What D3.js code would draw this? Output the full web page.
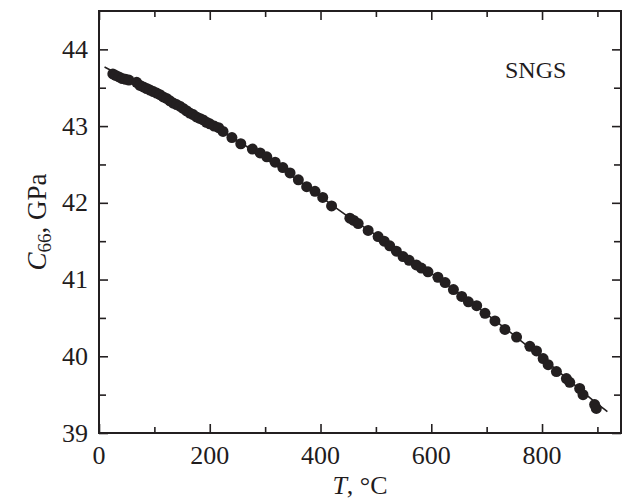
<!DOCTYPE html>
<html>
<head>
<meta charset="utf-8">
<script src="https://cdn.jsdelivr.net/npm/d3@7"></script>
<style>
  body { margin: 0; background: #fff; }
  svg text { font-family: "Liberation Serif", "Times New Roman", serif; fill: #1f1c1d; }
</style>
</head>
<body>
<div id="chart"></div>
<script>
// measured points, T in °C and C66 in GPa
const tempPoints = [25, 30, 36, 42, 48, 54, 68, 74, 80, 86, 92, 98, 104, 110, 116, 122, 128, 134, 140, 146,
  152, 158, 164, 170, 176, 182, 188, 194, 200, 208, 216, 224, 240, 256, 277, 291, 303, 318, 332, 345,
  360, 375, 390, 404, 420, 453, 460, 468, 486, 504, 515, 525, 537, 549, 560, 573, 582, 594, 612, 625,
  640, 655, 667, 682, 697, 715, 733, 754, 778, 790, 802, 811, 826, 844, 850, 868, 874, 895, 898];
const c66Points = [43.68, 43.66, 43.64, 43.62, 43.61, 43.60, 43.57, 43.53, 43.51, 43.49, 43.47, 43.45, 43.43, 43.41, 43.38, 43.36, 43.33, 43.30, 43.28, 43.26,
  43.23, 43.20, 43.17, 43.15, 43.12, 43.10, 43.08, 43.05, 43.03, 43.00, 42.98, 42.93, 42.85, 42.77, 42.70, 42.65, 42.60, 42.53, 42.46, 42.39,
  42.30, 42.21, 42.15, 42.07, 41.96, 41.80, 41.77, 41.73, 41.64, 41.56, 41.50, 41.44, 41.37, 41.30, 41.25, 41.19, 41.15, 41.10, 41.03, 40.96,
  40.87, 40.78, 40.71, 40.66, 40.56, 40.46, 40.35, 40.25, 40.13, 40.07, 39.97, 39.89, 39.80, 39.71, 39.66, 39.58, 39.50, 39.37, 39.32];

// fitted curve
const fitT = [10, 50, 100, 150, 200, 250, 300, 350, 400, 450, 500, 550, 600, 650, 700, 750, 800, 850, 900, 918];
const fitC = [43.77, 43.62, 43.45, 43.24, 43.04, 42.81, 42.58, 42.34, 42.08, 41.82, 41.58, 41.32, 41.08, 40.82, 40.55, 40.27, 39.98, 39.68, 39.38, 39.28];

const xTicks = [0, 200, 400, 600, 800];
const xMinor = [100, 300, 500, 700, 900];
const yTicks = [39, 40, 41, 42, 43, 44];
const yMinor = [39.5, 40.5, 41.5, 42.5, 43.5];
const sampleLabel = "SNGS";

const width = 623, height = 499;
const ink = "#231f20";
const plotL = 99, plotR = 621, plotT = 11, plotB = 433;

const svg = d3.select("#chart").append("svg")
  .attr("width", width)
  .attr("height", height);

const x = d3.scaleLinear().domain([0, 942.6]).range([plotL, plotR]);
const y = d3.scaleLinear().domain([39, 44.5]).range([plotB, plotT]);

// frame + inward ticks
function tickAxis(axis, size) {
  return axis.tickSizeInner(size).tickSizeOuter(0).tickFormat("");
}

const gb = svg.append("g").attr("transform", `translate(0,${plotB})`);
gb.call(tickAxis(d3.axisTop(x).tickValues(xTicks), 9));
gb.append("g").call(tickAxis(d3.axisTop(x).tickValues(xMinor), 6));

const gt = svg.append("g").attr("transform", `translate(0,${plotT})`);
gt.call(tickAxis(d3.axisBottom(x).tickValues(xTicks), 9));
gt.append("g").call(tickAxis(d3.axisBottom(x).tickValues(xMinor), 6));

const gl = svg.append("g").attr("transform", `translate(${plotL},0)`);
gl.call(tickAxis(d3.axisRight(y).tickValues(yTicks), 9));
gl.append("g").call(tickAxis(d3.axisRight(y).tickValues(yMinor), 7));

const gr = svg.append("g").attr("transform", `translate(${plotR},0)`);
gr.call(tickAxis(d3.axisLeft(y).tickValues(yTicks), 9));
gr.append("g").call(tickAxis(d3.axisLeft(y).tickValues(yMinor), 7));

svg.selectAll(".domain").remove();
svg.selectAll(".tick line").attr("stroke", ink).attr("stroke-width", 1.6);

svg.append("rect")
  .attr("x", plotL).attr("y", plotT)
  .attr("width", plotR - plotL).attr("height", plotB - plotT)
  .attr("fill", "none").attr("stroke", ink).attr("stroke-width", 2);

// tick labels
svg.append("g").selectAll("text").data(xTicks).join("text")
  .attr("x", d => x(d))
  .attr("y", 464)
  .attr("text-anchor", "middle")
  .style("font-size", "26px")
  .text(d => d);

svg.append("g").selectAll("text").data(yTicks).join("text")
  .attr("x", 88)
  .attr("y", d => y(d) + 8.5)
  .attr("text-anchor", "end")
  .style("font-size", "26px")
  .text(d => d);

// axis titles
const xt = svg.append("text")
  .attr("x", (plotL + plotR) / 2)
  .attr("y", 494)
  .attr("text-anchor", "middle")
  .style("font-size", "26px");
xt.append("tspan").style("font-style", "italic").text("T");
xt.append("tspan").text(", °C");

const yt = svg.append("text")
  .attr("transform", `translate(46,${(plotT + plotB) / 2}) rotate(-90)`)
  .attr("text-anchor", "middle")
  .style("font-size", "27px");
yt.append("tspan").style("font-style", "italic").text("C");
yt.append("tspan").attr("dy", 5).style("font-size", "19px").text("66");
yt.append("tspan").attr("dy", -5).text(", GPa");

// fit line
const line = d3.line().x((d, i) => x(fitT[i])).y(d => y(d)).curve(d3.curveMonotoneX);
svg.append("path")
  .attr("d", line(fitC))
  .attr("fill", "none")
  .attr("stroke", ink)
  .attr("stroke-width", 1.6);

// data points
svg.append("g").selectAll("circle").data(c66Points).join("circle")
  .attr("cx", (d, i) => x(tempPoints[i]))
  .attr("cy", d => y(d))
  .attr("r", 5.5)
  .attr("fill", ink);

svg.append("text")
  .attr("x", 505)
  .attr("y", 78)
  .style("font-size", "24px")
  .text(sampleLabel);
</script>
</body>
</html>
